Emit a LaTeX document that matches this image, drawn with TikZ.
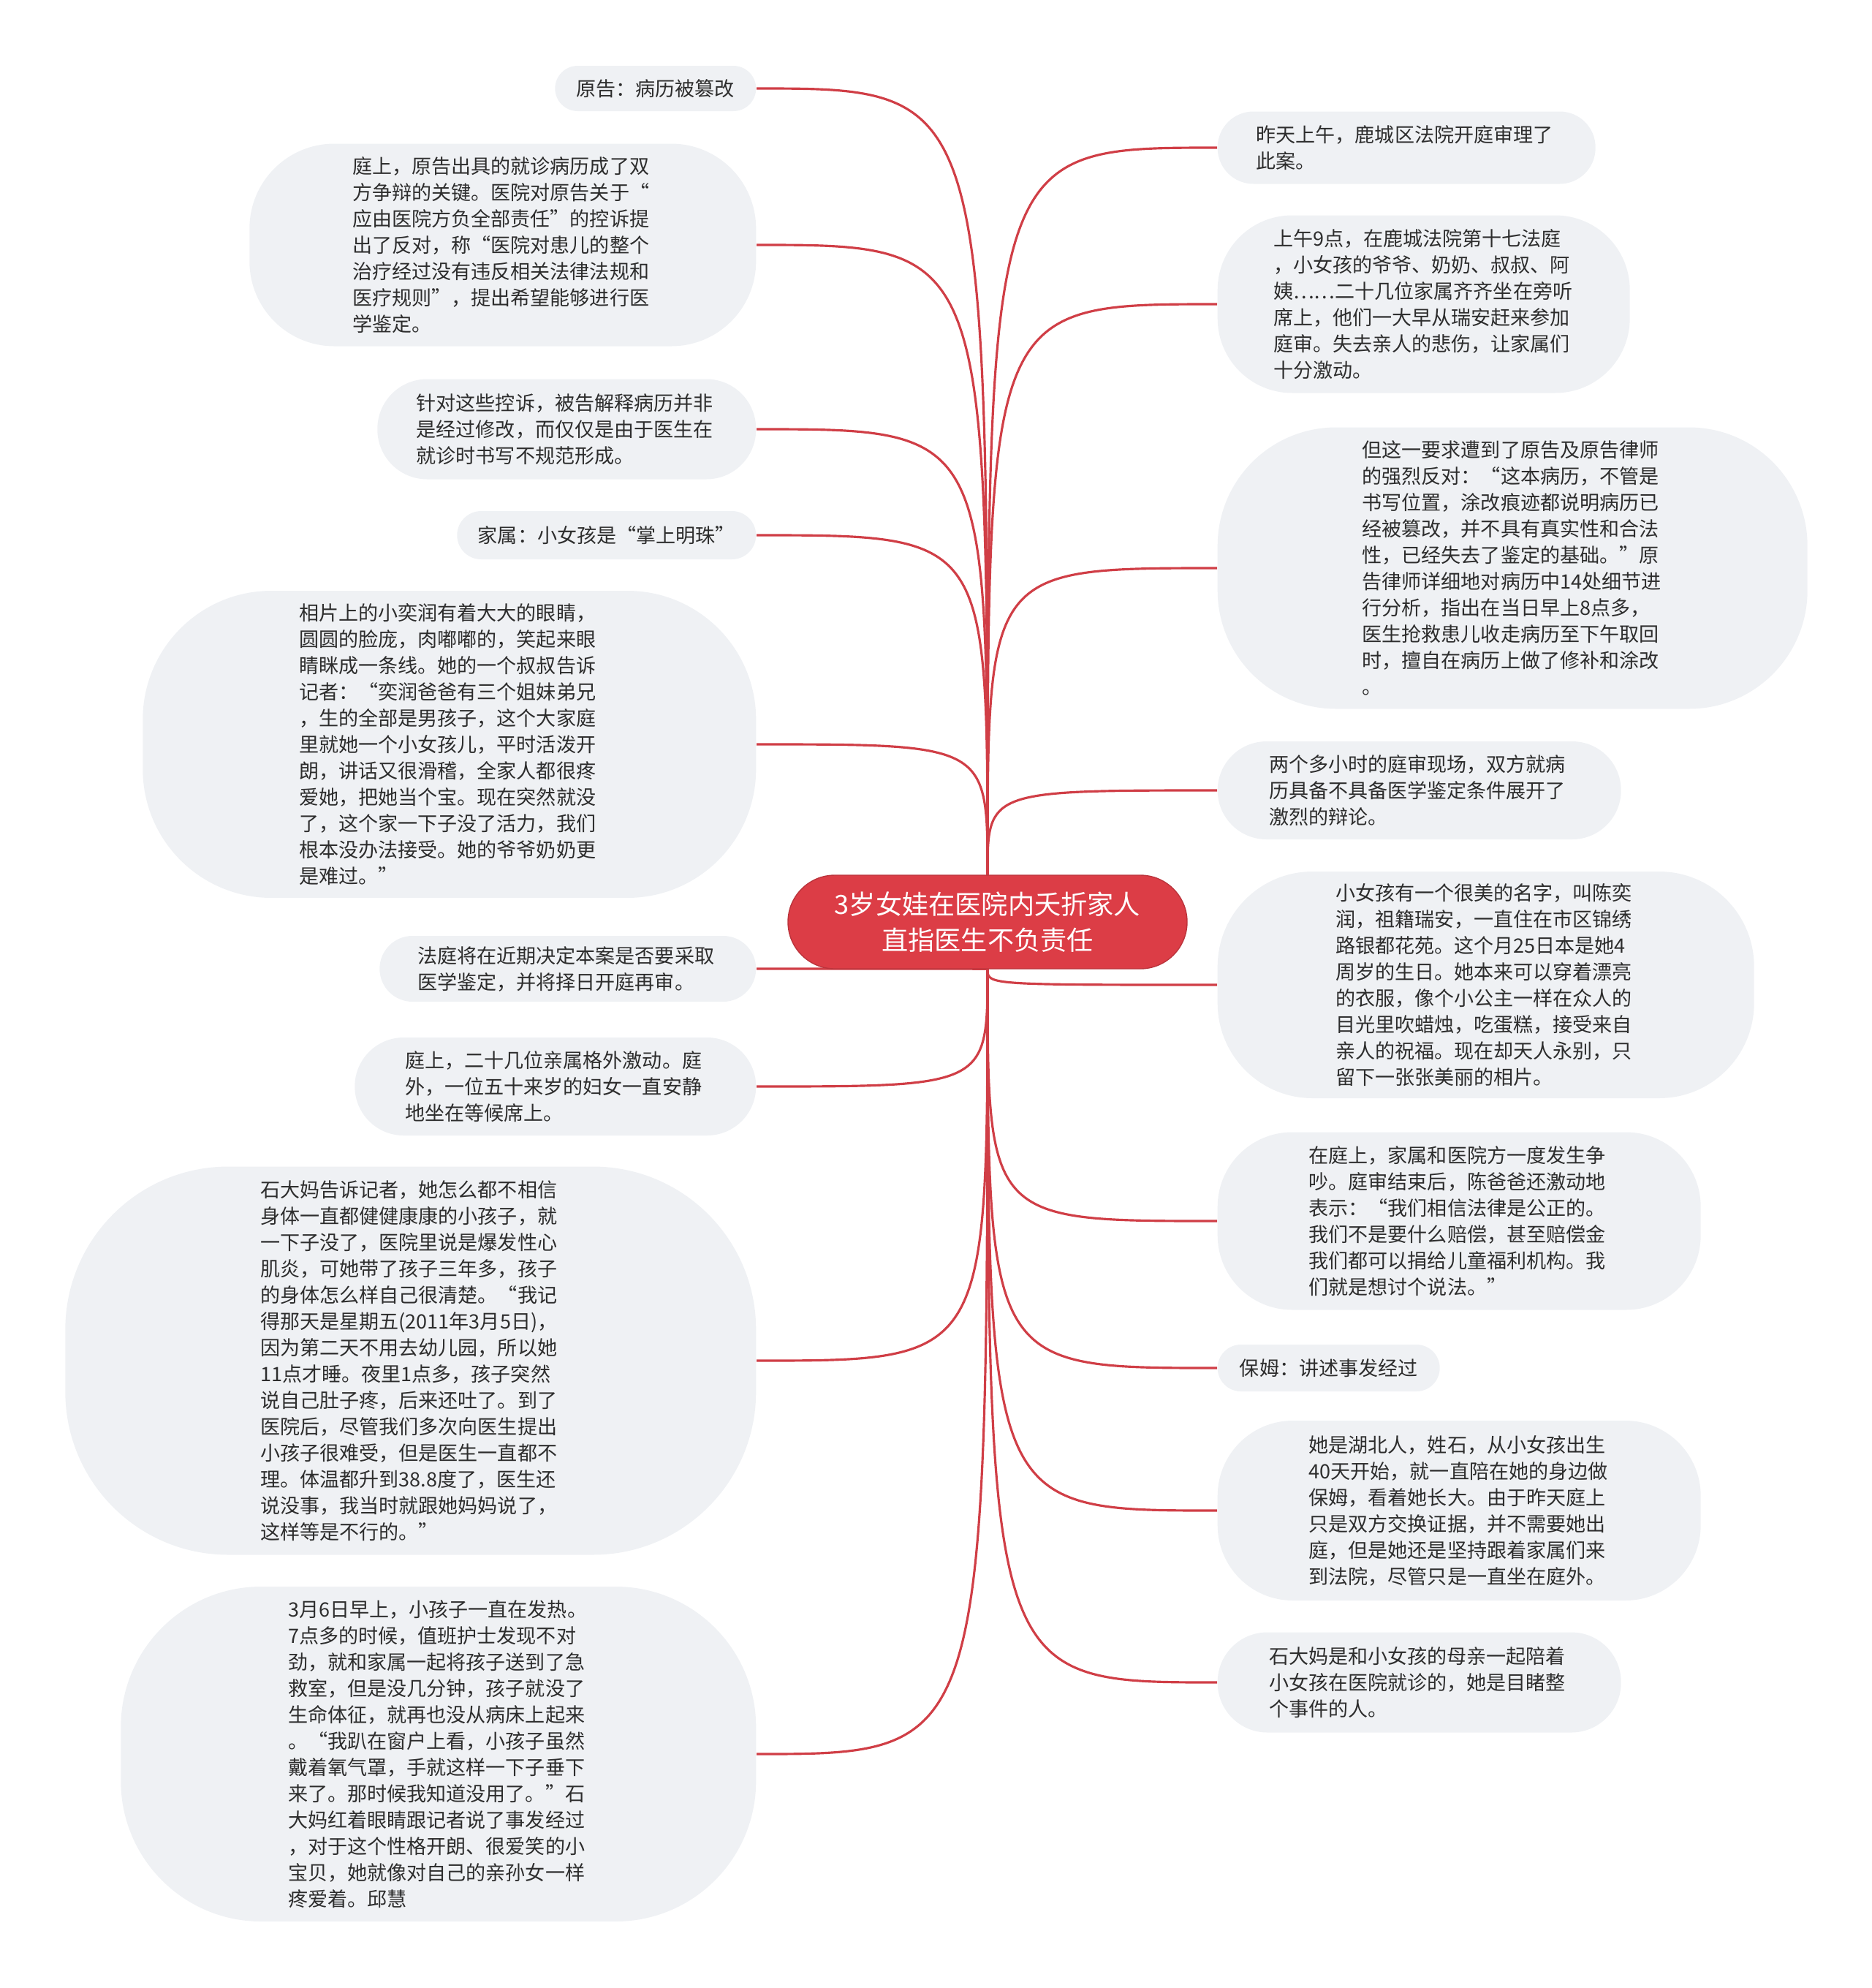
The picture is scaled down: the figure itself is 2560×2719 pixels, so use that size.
\documentclass[tikz,border=0pt]{standalone}
\usepackage{fontspec}
\setmainfont{Noto Sans CJK SC}
\usepackage{tikz}
\usetikzlibrary{backgrounds}
\definecolor{leafGray}{RGB}{239,241,244}
\definecolor{textDark}{RGB}{45,45,45}
\definecolor{rootRed}{RGB}{220,61,70}
\definecolor{linkRed}{RGB}{208,62,70}
\newcommand{\leaffont}{\fontsize{7.7pt}{10.24pt}\selectfont}
\newcommand{\rootfont}{\fontsize{10.3pt}{13.8pt}\selectfont}

\begin{document}
\begin{tikzpicture}[x=0.1mm,y=-0.1mm,
  leaf/.style={rectangle,rounded corners=#1,fill=leafGray,text=textDark,
               font=\leaffont,inner sep=0pt},
  para/.style={leaf=#1,text width=117pt,align=left},
  link/.style={draw=linkRed,line width=0.9pt}
]
\useasboundingbox (0,0) rectangle (2560,2719);
% Root
\node[rectangle,rounded corners=6.4mm,fill=rootRed,draw=rootRed!85!black,line width=0.4pt,
      minimum width=54.6mm,minimum height=12.8mm,align=center,text=white,font=\rootfont]
  (root) at (1351,1261) {3岁女娃在医院内夭折家人\\直指医生不负责任};
% Left side
\node[leaf=3.1mm,minimum width=27.5mm,minimum height=6.2mm,anchor=east] (plaintiff) at (1035,121)
  {原告：病历被篡改};
\node[para=11.6mm,minimum width=69.3mm,minimum height=27.7mm,anchor=east] (dispute) at (1035,335)
  {庭上，原告出具的就诊病历成了双\\
   方争辩的关键。医院对原告关于“\\
   应由医院方负全部责任”的控诉提\\
   出了反对，称“医院对患儿的整个\\
   治疗经过没有违反相关法律法规和\\
   医疗规则”，提出希望能够进行医\\
   学鉴定。};
\node[para=6.8mm,minimum width=51.8mm,minimum height=13.7mm,anchor=east] (defence) at (1035,587)
  {针对这些控诉，被告解释病历并非\\
   是经过修改，而仅仅是由于医生在\\
   就诊时书写不规范形成。};
\node[leaf=3.3mm,minimum width=40.9mm,minimum height=6.6mm,anchor=east] (family) at (1035,732)
  {家属：小女孩是“掌上明珠”};
\node[para=17.6mm,minimum width=83.9mm,minimum height=42mm,anchor=east] (photo) at (1035,1018)
  {相片上的小奕润有着大大的眼睛，\\
   圆圆的脸庞，肉嘟嘟的，笑起来眼\\
   睛眯成一条线。她的一个叔叔告诉\\
   记者：“奕润爸爸有三个姐妹弟兄\\
   ，生的全部是男孩子，这个大家庭\\
   里就她一个小女孩儿，平时活泼开\\
   朗，讲话又很滑稽，全家人都很疼\\
   爱她，把她当个宝。现在突然就没\\
   了，这个家一下子没了活力，我们\\
   根本没办法接受。她的爷爷奶奶更\\
   是难过。”};
\node[para=4.5mm,minimum width=51.5mm,minimum height=9mm,anchor=east] (court) at (1035,1325)
  {法庭将在近期决定本案是否要采取\\
   医学鉴定，并将择日开庭再审。};
\node[para=6.7mm,minimum width=54.9mm,minimum height=13.4mm,anchor=east] (relatives) at (1035,1486)
  {庭上，二十几位亲属格外激动。庭\\
   外，一位五十来岁的妇女一直安静\\
   地坐在等候席上。};
\node[para=22.3mm,minimum width=94.5mm,minimum height=53.1mm,anchor=east] (story) at (1035,1861)
  {石大妈告诉记者，她怎么都不相信\\
   身体一直都健健康康的小孩子，就\\
   一下子没了，医院里说是爆发性心\\
   肌炎，可她带了孩子三年多，孩子\\
   的身体怎么样自己很清楚。“我记\\
   得那天是星期五(2011年3月5日)，\\
   因为第二天不用去幼儿园，所以她\\
   11点才睡。夜里1点多，孩子突然\\
   说自己肚子疼，后来还吐了。到了\\
   医院后，尽管我们多次向医生提出\\
   小孩子很难受，但是医生一直都不\\
   理。体温都升到38.8度了，医生还\\
   说没事，我当时就跟她妈妈说了，\\
   这样等是不行的。”};
\node[para=19.2mm,minimum width=86.9mm,minimum height=45.8mm,anchor=east] (morning) at (1035,2399)
  {3月6日早上，小孩子一直在发热。\\
   7点多的时候，值班护士发现不对\\
   劲，就和家属一起将孩子送到了急\\
   救室，但是没几分钟，孩子就没了\\
   生命体征，就再也没从病床上起来\\
   。“我趴在窗户上看，小孩子虽然\\
   戴着氧气罩，手就这样一下子垂下\\
   来了。那时候我知道没用了。”石\\
   大妈红着眼睛跟记者说了事发经过\\
   ，对于这个性格开朗、很爱笑的小\\
   宝贝，她就像对自己的亲孙女一样\\
   疼爱着。邱慧};
% Right side
\node[para=4.9mm,minimum width=51.7mm,minimum height=9.9mm,anchor=west] (hearing) at (1665,202)
  {昨天上午，鹿城区法院开庭审理了\\
   此案。};
\node[para=10.2mm,minimum width=56.4mm,minimum height=24.3mm,anchor=west] (ninam) at (1665,416)
  {上午9点，在鹿城法院第十七法庭\\
   ，小女孩的爷爷、奶奶、叔叔、阿\\
   姨……二十几位家属齐齐坐在旁听\\
   席上，他们一大早从瑞安赶来参加\\
   庭审。失去亲人的悲伤，让家属们\\
   十分激动。};
\node[para=16.2mm,minimum width=80.7mm,minimum height=38.5mm,anchor=west] (objection) at (1665,777)
  {但这一要求遭到了原告及原告律师\\
   的强烈反对：“这本病历，不管是\\
   书写位置，涂改痕迹都说明病历已\\
   经被篡改，并不具有真实性和合法\\
   性，已经失去了鉴定的基础。”原\\
   告律师详细地对病历中14处细节进\\
   行分析，指出在当日早上8点多，\\
   医生抢救患儿收走病历至下午取回\\
   时，擅自在病历上做了修补和涂改\\
   。};
\node[para=6.7mm,minimum width=55.2mm,minimum height=13.4mm,anchor=west] (debate) at (1665,1081)
  {两个多小时的庭审现场，双方就病\\
   历具备不具备医学鉴定条件展开了\\
   激烈的辩论。};
\node[para=13mm,minimum width=73.4mm,minimum height=31mm,anchor=west] (girl) at (1665,1347)
  {小女孩有一个很美的名字，叫陈奕\\
   润，祖籍瑞安，一直住在市区锦绣\\
   路银都花苑。这个月25日本是她4\\
   周岁的生日。她本来可以穿着漂亮\\
   的衣服，像个小公主一样在众人的\\
   目光里吹蜡烛，吃蛋糕，接受来自\\
   亲人的祝福。现在却天人永别，只\\
   留下一张张美丽的相片。};
\node[para=10.2mm,minimum width=66.1mm,minimum height=24.3mm,anchor=west] (quarrel) at (1665,1670)
  {在庭上，家属和医院方一度发生争\\
   吵。庭审结束后，陈爸爸还激动地\\
   表示：“我们相信法律是公正的。\\
   我们不是要什么赔偿，甚至赔偿金\\
   我们都可以捐给儿童福利机构。我\\
   们就是想讨个说法。”};
\node[leaf=3.2mm,minimum width=30.4mm,minimum height=6.4mm,anchor=west] (nanny) at (1665,1871)
  {保姆：讲述事发经过};
\node[para=10.3mm,minimum width=66.1mm,minimum height=24.6mm,anchor=west] (hubei) at (1665,2066)
  {她是湖北人，姓石，从小女孩出生\\
   40天开始，就一直陪在她的身边做\\
   保姆，看着她长大。由于昨天庭上\\
   只是双方交换证据，并不需要她出\\
   庭，但是她还是坚持跟着家属们来\\
   到法院，尽管只是一直坐在庭外。};
\node[para=6.8mm,minimum width=55.2mm,minimum height=13.7mm,anchor=west] (witness) at (1665,2301)
  {石大妈是和小女孩的母亲一起陪着\\
   小女孩在医院就诊的，她是目睹整\\
   个事件的人。};
% Connectors
\begin{scope}[on background layer]
\foreach \n in {plaintiff,dispute,defence,family,photo,court,relatives,story,morning}
  \draw[link] (root) .. controls (root |- \n) .. (\n.east);
\foreach \n in {hearing,ninam,objection,debate,girl,quarrel,nanny,hubei,witness}
  \draw[link] (root) .. controls (root |- \n) .. (\n.west);
\end{scope}
\end{tikzpicture}
\end{document}
